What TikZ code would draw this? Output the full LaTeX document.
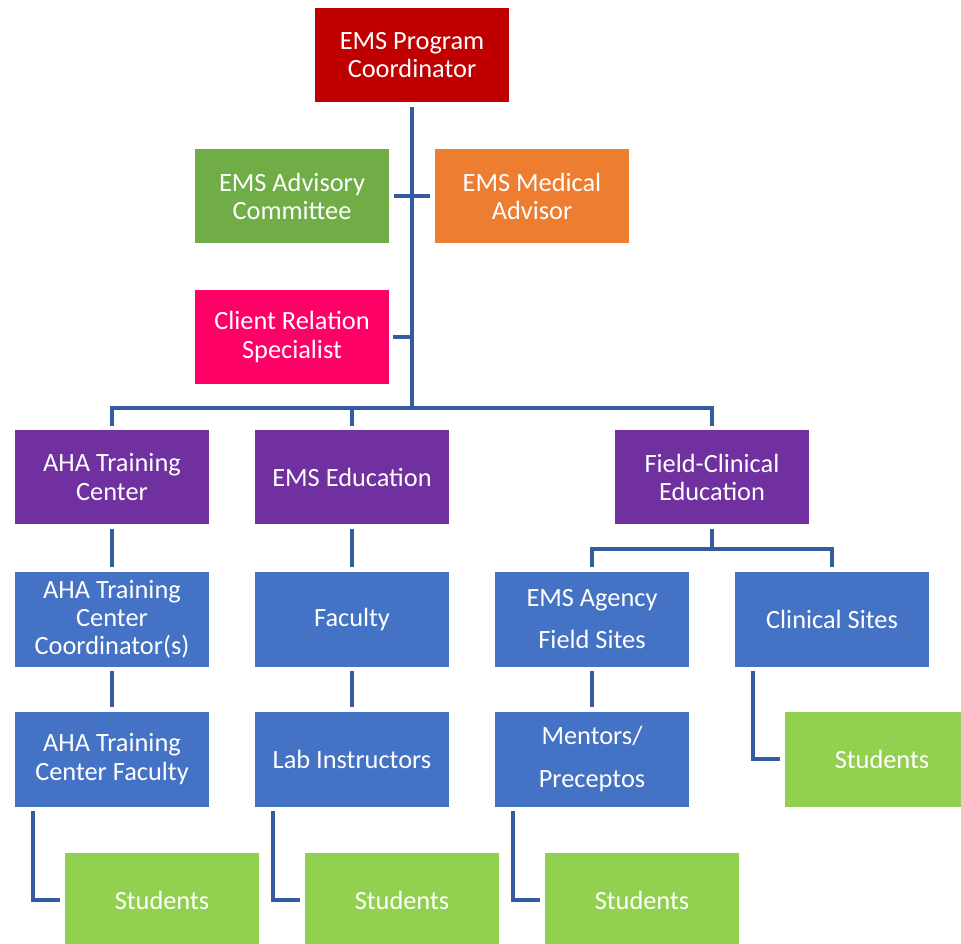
\documentclass[tikz,border=0pt]{standalone}
\usepackage{fontspec}
\setmainfont{Carlito}
\usepackage{xcolor}
\usepackage{tikz}
\usetikzlibrary{positioning, calc}
\definecolor{emsred}{RGB}{192,0,0}
\definecolor{advgreen}{RGB}{112,173,71}
\definecolor{medorange}{RGB}{237,125,49}
\definecolor{clientpink}{RGB}{255,0,102}
\definecolor{deptpurple}{RGB}{112,48,160}
\definecolor{staffblue}{RGB}{68,114,196}
\definecolor{studgreen}{RGB}{146,208,80}
\definecolor{linkblue}{RGB}{52,90,160}

\begin{document}
\begin{tikzpicture}[x=0.02cm, y=-0.02cm,
    unit/.style={rectangle, fill=#1, text=white, minimum width=3.88cm,
                 minimum height=1.9cm, inner sep=0pt, align=center,
                 font=\fontsize{15}{16}\selectfont},
    link/.style={linkblue, line width=2.1pt},
    gap/.style={shorten <=2.6pt, shorten >=2.6pt}
  ]
    \useasboundingbox (0,0) rectangle (961,944);
    \node[unit=emsred] at (412,55) (coord) {EMS Program\\Coordinator};
    \node[unit=advgreen] at (292,196) (advisory) {EMS Advisory\\Committee};
    \node[unit=medorange] at (532,196) (medical) {EMS Medical\\Advisor};
    \node[unit=clientpink] at (292,337) (client) {Client Relation\\Specialist};
    \node[unit=deptpurple] at (112,477) (aha) {AHA Training\\Center};
    \node[unit=deptpurple] at (352,477) (edu) {EMS Education};
    \node[unit=deptpurple] at (712,477) (field) {Field-Clinical\\Education};
    \node[unit=staffblue] at (112,619) (ahacoord) {AHA Training\\Center\\Coordinator(s)};
    \node[unit=staffblue] at (352,619) (faculty) {Faculty};
    \node[unit=staffblue] at (592,619) (agency) {EMS Agency\\[8pt]Field Sites};
    \node[unit=staffblue] at (832,619) (clinical) {Clinical Sites};
    \node[unit=staffblue] at (112,759) (ahafac) {AHA Training\\Center Faculty};
    \node[unit=staffblue] at (352,759) (lab) {Lab Instructors};
    \node[unit=staffblue] at (592,759) (mentors) {Mentors/\\[8pt]Preceptos};
    \node[unit=studgreen] at (882,759) (studclin) {Students};
    \node[unit=studgreen] at (162,900) (studaha) {Students};
    \node[unit=studgreen] at (402,900) (studlab) {Students};
    \node[unit=studgreen] at (642,900) (studfield) {Students};

    \coordinate (hub) at (412,408);
    \coordinate (fork) at (712,549);

    \draw[link, shorten <=2.6pt] (coord) -- (hub);
    \draw[link, gap] (advisory) -- (medical);
    \draw[link, shorten <=2.2pt] (client) -- (client -| hub);
    \draw[link, shorten >=1.8pt] (hub) -| (aha);
    \draw[link, shorten >=1.8pt] (hub) -| (field);
    \draw[link, shorten >=1.8pt] (edu |- hub) -- (edu);
    \draw[link, gap] (aha) -- (ahacoord);
    \draw[link, gap] (ahacoord) -- (ahafac);
    \draw[link, gap] (edu) -- (faculty);
    \draw[link, gap] (faculty) -- (lab);
    \draw[link, gap] (agency) -- (mentors);
    \draw[link, shorten <=2.6pt] (field) -- (fork);
    \draw[link, shorten >=2.6pt] (fork) -| (agency);
    \draw[link, shorten >=2.6pt] (fork) -| (clinical);
    \draw[link, gap] ([xshift=0.36cm]ahafac.south west) |- (studaha);
    \draw[link, gap] ([xshift=0.36cm]lab.south west) |- (studlab);
    \draw[link, gap] ([xshift=0.36cm]mentors.south west) |- (studfield);
    \draw[link, gap] ([xshift=0.36cm]clinical.south west) |- (studclin);
  \end{tikzpicture}
\end{document}
